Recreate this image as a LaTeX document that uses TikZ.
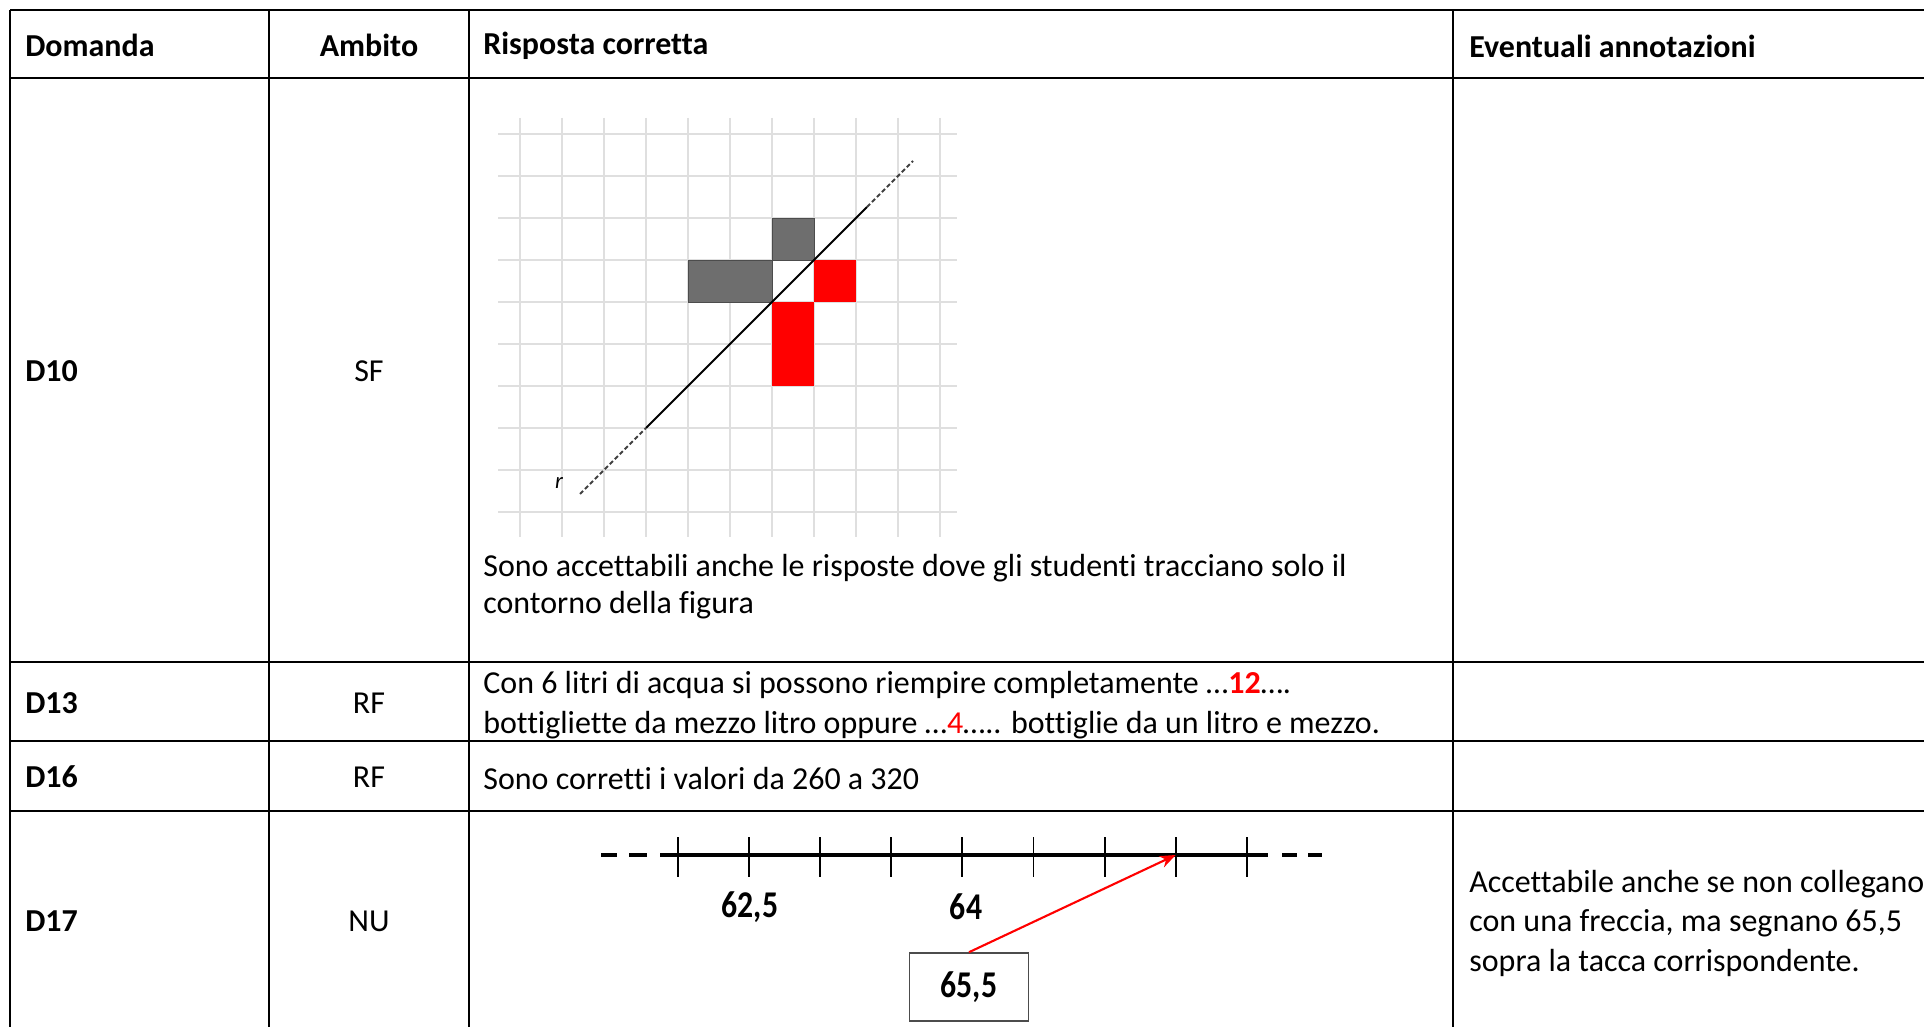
\documentclass[tikz,border=0pt]{standalone}
\usepackage{fontspec}
\setmainfont[Ligatures=NoCommon]{Carlito}
\newfontfamily\stretta[FakeStretch=0.84]{Carlito}
\usetikzlibrary{arrows.meta}

\begin{document}
\begin{tikzpicture}[
    x=0.02cm, y=-0.02cm,
    bordo/.style={line width=1.1pt},
    testo/.style={inner sep=0pt, anchor=west, align=left, font=\fontsize{18.2}{21}\selectfont},
    titolo/.style={testo, font=\fontsize{18.2}{21}\selectfont\bfseries},
    centro/.style={testo, anchor=center},
    griglia/.style={gray!25, line width=0.8pt},
    scuro/.style={fill=black!57, draw=black!70, line width=0.5pt},
    rosso/.style={fill=red},
    asse/.style={line width=1.8pt},
    tacca/.style={line width=1.1pt},
    etichetta/.style={inner sep=0pt, font=\stretta\fontsize{21.5}{22}\selectfont\bfseries},
    riquadro/.style={draw=black!70, line width=0.9pt, minimum width=2.38cm, minimum height=1.36cm,
        inner sep=0pt, font=\stretta\fontsize{21.5}{22}\selectfont\bfseries},
    freccia/.style={red, line width=1.2pt, -{Stealth[length=9pt, width=7pt]}}
]
\useasboundingbox (0,0) rectangle (1924,1027);

% Tabella
\foreach \r in {10,78,662,741,811}
  \draw[bordo] (10,\r) -- (1924,\r);
\foreach \c in {10,269,469,1453}
  \draw[bordo] (\c,10) -- (\c,1030);

% Intestazione
\node[titolo] (domanda) at (25,45) {Domanda};
\node[titolo, anchor=center] (ambito) at (369,45) {Ambito};
\node[titolo] (risposta) at (483,46) {Risposta corretta};
\node[titolo] (note) at (1469,46) {Eventuali annotazioni};

% Righe
\node[titolo] (d10) at (25,371) {D10};
\node[centro] (sf) at (369,371) {SF};
\node[titolo] (d13) at (25,703) {D13};
\node[centro] (rf1) at (369,703) {RF};
\node[titolo] (d16) at (25,777) {D16};
\node[centro] (rf2) at (369,777) {RF};
\node[titolo] (d17) at (25,921) {D17};
\node[centro] (nu) at (369,921) {NU};

% Griglia D10
\foreach \i in {0,...,10}
  \draw[griglia] (520+42*\i,118) -- (520+42*\i,537);
\foreach \j in {0,...,9}
  \draw[griglia] (498,134+42*\j) -- (957,134+42*\j);

\draw[scuro] (772,218) rectangle (814,260);
\draw[scuro] (688,260) rectangle (772,302);
\fill[rosso] (814,260) rectangle (856,302);
\fill[rosso] (772,302) rectangle (814,386);

% Retta r
\coordinate (r1) at (580,494);
\coordinate (r2) at (646,428);
\coordinate (r3) at (867,207);
\coordinate (r4) at (913,161);
\draw[line width=1.1pt] (r2) -- (r3);
\draw[black!75, line width=1.1pt, dash pattern=on 2.5pt off 1.5pt] (r1) -- (r2);
\draw[black!75, line width=1.1pt, dash pattern=on 2.5pt off 1.5pt] (r3) -- (r4);
\node[inner sep=0pt, font=\fontsize{13}{13}\selectfont\itshape] (r) at (559,483) {r};

\node[testo] (nota10) at (483,587) {Sono accettabili anche le risposte dove gli studenti tracciano solo il\\contorno della figura};

% D13 e D16
\node[testo, font=\fontsize{18.2}{22.5}\selectfont] (risp13) at (483,705)
  {Con 6 litri di acqua si possono riempire completamente …{\color{red}\bfseries 12}….\\
   bottigliette da mezzo litro oppure …{\color{red}4}….. bottiglie da un litro e mezzo.};
\node[testo] (risp16) at (483,779) {Sono corretti i valori da 260 a 320};

% Retta numerica D17
\draw[asse] (601,855) -- (617,855);
\draw[asse] (629,855) -- (647,855);
\draw[asse] (660,855) -- (1268,855);
\draw[asse] (1282,855) -- (1297,855);
\draw[asse] (1308,855) -- (1322,855);
\foreach \k in {1,...,9} {
  \coordinate (t\k) at (678+71.1*\k-71.1,855);
  \draw[tacca] (678+71.1*\k-71.1,837) -- (678+71.1*\k-71.1,877);
}
\node[etichetta] (e625) at (750,907) {62,5};
\node[etichetta] (e64) at (966,907) {64};
\node[riquadro] (valore) at (969,987) {65,5};
\draw[freccia] (valore.north) -- (t8);

\node[testo, font=\fontsize{18.2}{22.5}\selectfont] (nota17) at (1469,923)
  {Accettabile anche se non collegano\\con una freccia, ma segnano 65,5\\sopra la tacca corrispondente.};
\end{tikzpicture}
\end{document}
